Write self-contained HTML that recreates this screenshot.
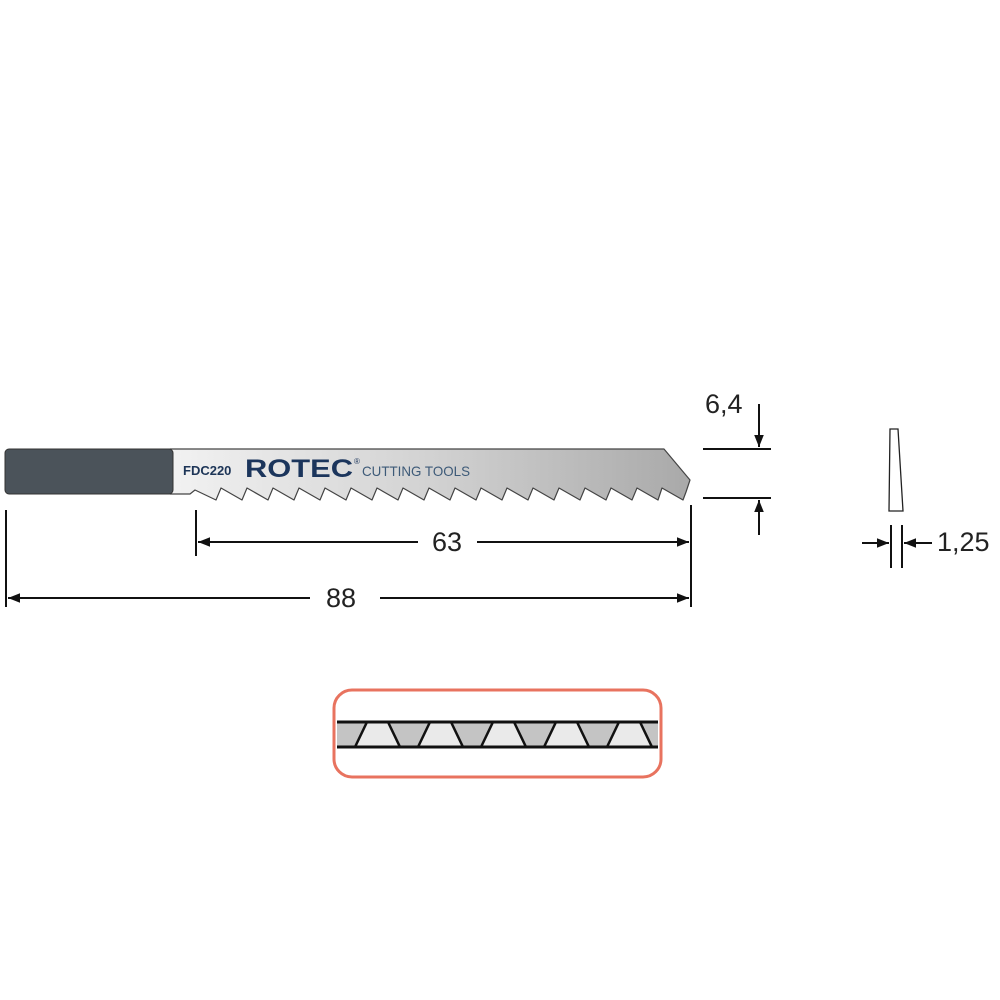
<!DOCTYPE html>
<html><head><meta charset="utf-8"><style>html,body{margin:0;padding:0;background:#fff}svg{display:block}</style></head>
<body>
<svg width="1000" height="1000" viewBox="0 0 1000 1000" xmlns="http://www.w3.org/2000/svg" font-family="Liberation Sans, sans-serif">
<defs>
<linearGradient id="g" x1="0" x2="1" y1="0" y2="0">
<stop offset="0" stop-color="#f2f2f2"/><stop offset="0.5" stop-color="#d2d2d2"/><stop offset="1" stop-color="#a9a9a9"/>
</linearGradient>
<marker id="b" viewBox="0 0 10 10" refX="10" refY="5" markerWidth="12" markerHeight="12" markerUnits="userSpaceOnUse" orient="auto"><path d="M0,1 L10,5 L0,9 z" fill="#111"/></marker>
<clipPath id="cb"><rect x="337" y="722" width="321" height="25"/></clipPath>
</defs>
<path d="M170,449 L664,449 L690,480 L686,492 L683,500 L662,488 L658,500 L637,488 L632,500 L611,488 L606,500 L585,488 L580,500 L559,488 L554,500 L533,488 L528,500 L507,488 L502,500 L481,488 L476,500 L455,488 L450,500 L429,488 L424,500 L403,488 L398,500 L377,488 L372,500 L351,488 L346,500 L325,488 L320,500 L299,488 L294,500 L273,488 L268,500 L247,488 L242,500 L221,488 L216,500 L195,490 L190,494 L170,494 Z" fill="url(#g)" stroke="#444" stroke-width="1.2" stroke-linejoin="round"/>
<rect x="5" y="449" width="168" height="45" rx="4" fill="#4b535a" stroke="#333" stroke-width="1"/>
<text x="183" y="475" font-size="13" font-weight="bold" fill="#1d3557">FDC220</text>
<text x="245" y="477" font-size="25" font-weight="bold" fill="#1b355c" textLength="108" lengthAdjust="spacingAndGlyphs">ROTEC</text>
<text x="354" y="464" font-size="8" fill="#1b355c">®</text>
<text x="362" y="476" font-size="14" fill="#3d5a78" textLength="108" lengthAdjust="spacingAndGlyphs">CUTTING TOOLS</text>
<g stroke="#111" stroke-width="2" fill="none">
<line x1="196" y1="510" x2="196" y2="556"/>
<line x1="691" y1="505" x2="691" y2="607"/>
<line x1="6" y1="510" x2="6" y2="607"/>
<line x1="418" y1="542" x2="198" y2="542" marker-end="url(#b)"/>
<line x1="477" y1="542" x2="689" y2="542" marker-end="url(#b)"/>
<line x1="310" y1="598" x2="8" y2="598" marker-end="url(#b)"/>
<line x1="380" y1="598" x2="689" y2="598" marker-end="url(#b)"/>
<line x1="703" y1="449" x2="771" y2="449"/>
<line x1="703" y1="498" x2="771" y2="498"/>
<line x1="759" y1="404" x2="759" y2="447" marker-end="url(#b)"/>
<line x1="759" y1="535" x2="759" y2="500" marker-end="url(#b)"/>
<line x1="891" y1="525" x2="891" y2="568"/>
<line x1="902" y1="525" x2="902" y2="568"/>
<line x1="862" y1="543" x2="889" y2="543" marker-end="url(#b)"/>
<line x1="932" y1="543" x2="904" y2="543" marker-end="url(#b)"/>
</g>
<polygon points="890,429 898,429 903,511 889,511" fill="#fff" stroke="#222" stroke-width="1.3"/>
<g font-size="27" fill="#222">
<text x="447" y="551" text-anchor="middle">63</text>
<text x="341" y="607" text-anchor="middle">88</text>
<text x="705" y="413">6,4</text>
<text x="937" y="551">1,25</text>
</g>
<rect x="334" y="690" width="327" height="87" rx="18" fill="#fff" stroke="#e8735f" stroke-width="3"/>
<g clip-path="url(#cb)">
<rect x="337" y="722" width="321" height="25" fill="#c4c4c4"/>
<g fill="#eaeaea" stroke="#111" stroke-width="2.5">
<polygon points="355,747 367,722 388,722 400,747"/>
<polygon points="418,747 430,722 451,722 463,747"/>
<polygon points="481,747 493,722 514,722 526,747"/>
<polygon points="544,747 556,722 577,722 589,747"/>
<polygon points="607,747 619,722 640,722 652,747"/>
</g>
</g>
<line x1="337" y1="722" x2="658" y2="722" stroke="#111" stroke-width="3"/>
<line x1="337" y1="747" x2="658" y2="747" stroke="#111" stroke-width="3"/>
</svg>
</body></html>
